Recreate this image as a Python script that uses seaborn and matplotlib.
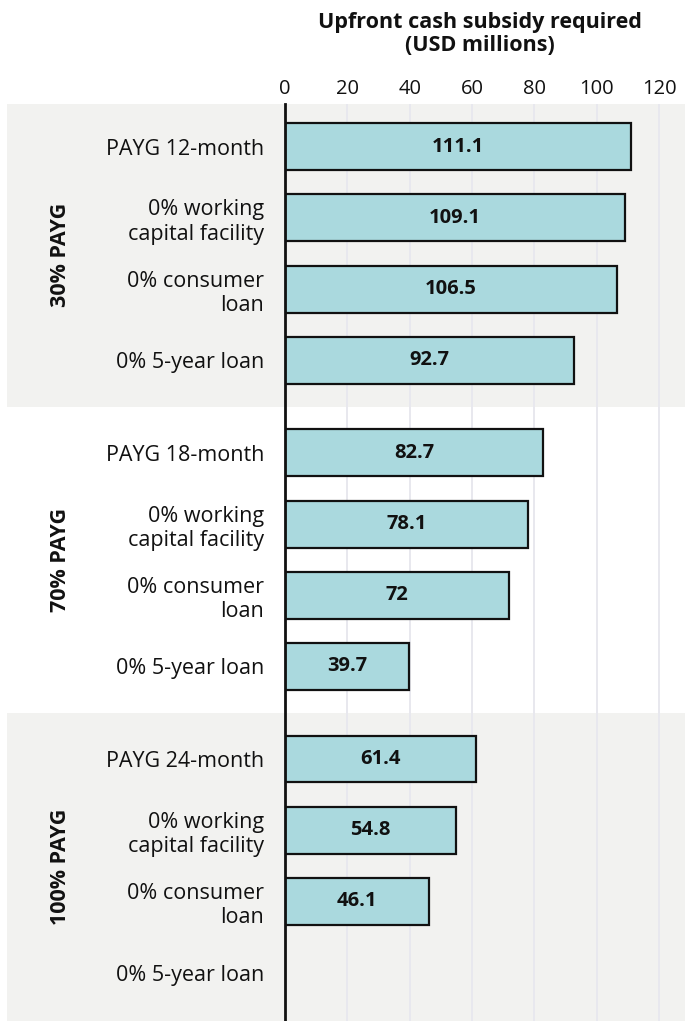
import matplotlib
matplotlib.use("Agg")
import matplotlib.pyplot as plt
import seaborn as sns
import numpy as np
import pandas as pd

# ---- data ----
groups = ["30% PAYG", "70% PAYG", "100% PAYG"]
categories = [
    ["PAYG 12-month", "0% working\ncapital facility", "0% consumer\nloan", "0% 5-year loan"],
    ["PAYG 18-month", "0% working\ncapital facility", "0% consumer\nloan", "0% 5-year loan"],
    ["PAYG 24-month", "0% working\ncapital facility", "0% consumer\nloan", "0% 5-year loan"],
]
values = [
    [111.1, 109.1, 106.5, 92.7],
    [82.7, 78.1, 72.0, 39.7],
    [61.4, 54.8, 46.1, np.nan],
]
xticks = [0, 20, 40, 60, 80, 100, 120]
title = "Upfront cash subsidy required\n(USD millions)"

# ---- layout ----
sns.set_theme(style="white")
FONT = ["Open Sans", "DejaVu Sans"]
plt.rcParams["font.family"] = FONT

GAP = 0.3
rows = []
for gi, (g, cats, vals) in enumerate(zip(groups, categories, values)):
    for ci, (c, v) in enumerate(zip(cats, vals)):
        rows.append({"group": g, "label": c, "value": v,
                     "pos": gi * (len(cats) + GAP) + ci})
df = pd.DataFrame(rows)

fig = plt.figure(figsize=(6.85, 10.21), dpi=100)
W, H = 685, 1021
ax = fig.add_axes([285 / W, 0, 400 / W, (H - 104) / H])

TOP_PAD, BOT_PAD = 0.6, 0.68
ngroups = len(groups)
for gi, g in enumerate(groups):
    sub = df[df.group == g]
    lo = sub.pos.min() - (TOP_PAD if gi == 0 else (1 + GAP) / 2)
    hi = sub.pos.max() + (BOT_PAD if gi == ngroups - 1 else (1 + GAP) / 2)
    if gi % 2 == 0:
        ax.axhspan(lo, hi, xmin=-(278 / 400), xmax=1, color="#f2f2f0",
                   zorder=0, clip_on=False, lw=0)
    ax.text(-(225 / 400), (lo + hi) / 2, g, transform=ax.get_yaxis_transform(),
            rotation=90, ha="center", va="center", fontsize=15.5,
            fontweight="bold", color="#111111")

plot_df = df.dropna(subset=["value"])
sns.barplot(data=plot_df, x="value", y="pos", orient="h", native_scale=True,
            color="#aad9de", saturation=1, edgecolor="#111111", linewidth=1.6,
            width=0.66, ax=ax, zorder=2)

for _, r in plot_df.iterrows():
    v = r.value
    txt = f"{v:g}" if v != int(v) else f"{int(v)}"
    ax.text(v / 2, r.pos, txt, ha="center", va="center", fontsize=14.5,
            fontweight="bold", color="#111111", zorder=3)

ax.set_xlim(0, 128.3)
ax.set_ylim(df.pos.max() + BOT_PAD, -TOP_PAD)
ax.set_xticks(xticks)
ax.xaxis.tick_top()
ax.tick_params(axis="x", length=0, pad=3.5, labelsize=14.5, labelcolor="#111111")
ax.set_yticks(df.pos.tolist(), df.label.tolist())
ax.tick_params(axis="y", length=0, pad=15, labelsize=15.5, labelcolor="#111111")
for t in ax.get_yticklabels():
    t.set_horizontalalignment("right")
    t.set_multialignment("right")
    t.set_linespacing(1.2)

for x in xticks[1:]:
    ax.axvline(x, color="#e8e8ee", lw=1.4, zorder=1)

for s in ["top", "right", "bottom"]:
    ax.spines[s].set_visible(False)
ax.spines["left"].set_color("#111111")
ax.spines["left"].set_linewidth(2)
ax.spines["left"].set_zorder(4)
ax.set_xlabel("")
ax.set_ylabel("")
ax.patch.set_alpha(0)

fig.text(480 / W, 1 - 34 / H, title, ha="center", va="center", fontsize=15.5,
         fontweight="bold", color="#111111", linespacing=1.12)

fig.savefig("out.png", dpi=100)
